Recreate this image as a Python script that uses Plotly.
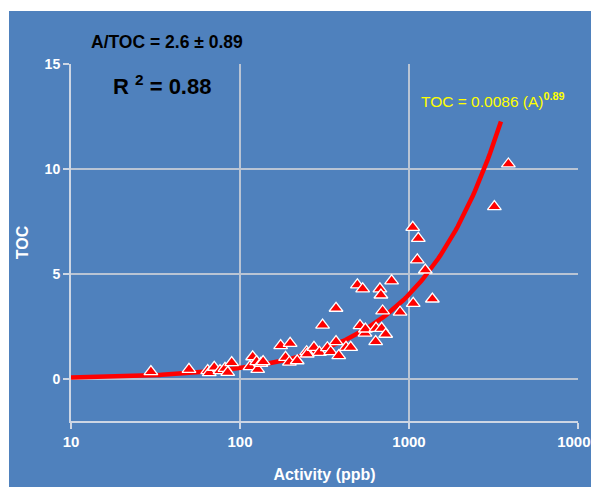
import numpy as np
import plotly.graph_objects as go

# ---- data ----
activity = [29.7, 49.9, 64.4, 65.8, 70.4, 76.2, 81.5, 84.6, 89.3, 118.8,
            114.5, 125.5, 127.3, 133, 137, 174, 198, 186, 196, 218,
            248, 250, 274, 295, 308, 329, 344, 370, 370, 384,
            424, 452, 513, 549, 552, 638, 689, 728, 635, 698,
            885, 1059, 1052, 1135, 1120, 1249, 1375, 789, 495, 532,
            673, 682, 3200, 3873]
toc = [0.35, 0.46, 0.40, 0.30, 0.56, 0.40, 0.51, 0.32, 0.78, 1.06,
       0.59, 0.83, 0.46, 0.75, 0.83, 1.59, 1.70, 1.03, 0.80, 0.87,
       1.30, 1.19, 1.51, 1.27, 2.57, 1.49, 1.30, 3.37, 1.78, 1.11,
       1.51, 1.51, 2.54, 2.18, 2.38, 2.41, 2.41, 2.13, 1.78, 3.24,
       3.18, 3.60, 7.22, 6.70, 5.67, 5.19, 3.81, 4.67, 4.48, 4.29,
       4.29, 4.00, 8.21, 10.24]

fit_coef = 0.0086
fit_exp = 0.89
fit_range = [10, 3500]

x_tickvals = [10, 100, 1000, 10000]
x_ticktext = ["10", "100", "1000", "10000"]
y_tickvals = [0, 5, 10, 15]

fit_x = np.logspace(np.log10(fit_range[0]), np.log10(fit_range[1]), 200)
fit_y = fit_coef * fit_x ** fit_exp

BLUE = "rgb(79,129,189)"
GRID = "rgb(185,196,212)"
AXIS = "rgb(205,214,228)"
FONT = "Liberation Sans, Arial, sans-serif"

fig = go.Figure()
fig.add_trace(go.Scatter(x=fit_x, y=fit_y, mode="lines",
                         line=dict(color="rgb(255,0,0)", width=4.5),
                         hoverinfo="skip", showlegend=False))
fig.add_trace(go.Scatter(x=activity, y=toc, mode="markers",
                         marker=dict(symbol="triangle-up", size=12, color="rgb(255,0,0)",
                                     line=dict(color="white", width=1.3)),
                         showlegend=False))

# page body margin offsets the figure by 8 px; work in figure coordinates
OFF = 8
W, H = 599 - OFF, 487 - OFF
L, R, T, B = 71 - OFF, 599 - 578, 64 - OFF, 487 - 421
pw, ph = W - L - R, H - T - B

def px2paper(px, py):
    # px, py are screenshot pixel positions
    fx, fy = px - OFF, py - OFF
    return (fx - L) / pw, (H - B - fy) / ph

x0, y0 = px2paper(9, 487)
x1, y1 = px2paper(599, 11)
fig.add_shape(type="rect", xref="paper", yref="paper", x0=x0, y0=y0, x1=x1, y1=y1,
              fillcolor=BLUE, line=dict(width=0), layer="below")

ax, ay = px2paper(166.5, 42)
fig.add_annotation(text="<b>A/TOC = 2.6 ± 0.89</b>", xref="paper", yref="paper",
                   x=ax, y=ay, xanchor="center", yanchor="middle", showarrow=False,
                   font=dict(family=FONT, size=17.5, color="black"))
rx, ry = px2paper(161.5, 85)
fig.add_annotation(text="<b>R <sup>2</sup> = 0.88</b>", xref="paper", yref="paper",
                   x=rx, y=ry, xanchor="center", yanchor="middle", showarrow=False,
                   font=dict(family=FONT, size=22, color="black"))
tx, ty = px2paper(419, 100)
fig.add_annotation(text="TOC = 0.0086 (A)<sup><b>0.89</b></sup>", xref="paper", yref="paper",
                   x=tx, y=ty, xanchor="left", yanchor="middle", showarrow=False,
                   font=dict(family=FONT, size=15.5, color="rgb(255,255,0)"))

fig.update_layout(
    width=W, height=H,
    margin=dict(l=L, r=R, t=T, b=B, pad=0, autoexpand=False),
    paper_bgcolor="white", plot_bgcolor=BLUE,
    font=dict(family=FONT, color="white"),
)
fig.update_xaxes(type="log", range=[1, 4], tickvals=x_tickvals, ticktext=x_ticktext,
                 automargin=False,
                 showgrid=True, gridcolor=GRID, gridwidth=1.5,
                 showline=True, linecolor=AXIS, linewidth=2,
                 ticks="outside", ticklen=6, tickcolor=AXIS, tickwidth=1.5,
                 tickfont=dict(family=FONT, size=15, color="white", weight="bold"),
                 title=dict(text="<b>Activity (ppb)</b>", font=dict(family=FONT, size=16, color="white"),
                            standoff=20),
                 zeroline=False, mirror=False)
fig.update_yaxes(range=[-2, 15], tickvals=y_tickvals,
                 automargin=False,
                 showgrid=True, gridcolor=GRID, gridwidth=1.5,
                 showline=True, linecolor=AXIS, linewidth=2,
                 ticks="outside", ticklen=6, tickcolor=AXIS, tickwidth=1.5,
                 tickfont=dict(family=FONT, size=14, color="white", weight="bold"),
                 title=dict(text="<b>TOC</b>", font=dict(family=FONT, size=16, color="white"),
                            standoff=12),
                 zeroline=False)

fig.write_html("out.html")
